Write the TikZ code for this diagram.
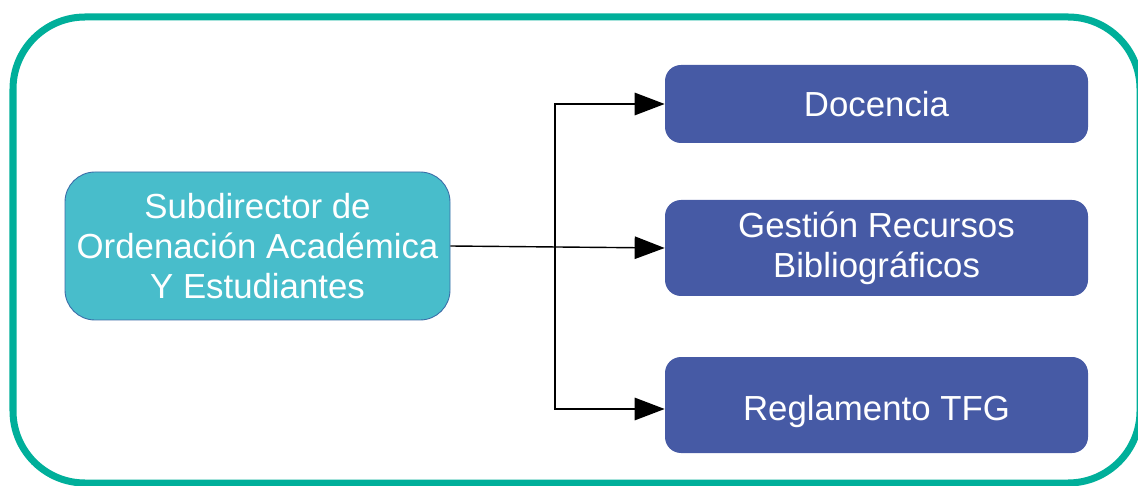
\documentclass[tikz,border=0pt]{standalone}
\usepackage{fontspec}
\setmainfont{Liberation Sans}
\usepackage{tikz}
\usetikzlibrary{arrows.meta}
\definecolor{frame-teal}{HTML}{00AF9A}
\definecolor{head-cyan}{HTML}{48BDCB}
\definecolor{head-line}{HTML}{3B6DA8}
\definecolor{task-blue}{HTML}{465AA5}
\tikzset{
    head-box/.style = {draw=head-line, line width=0.5pt, fill=head-cyan, text=white, rectangle, rounded corners=0.6cm,
        minimum width=7.7cm, minimum height=2.96cm, align=center, font=\fontsize{19.8}{22.9}\selectfont},
    task-box/.style = {fill=task-blue, text=white, rectangle, rounded corners=0.32cm, minimum width=8.46cm,
        align=center, font=\fontsize{19.8}{22.9}\selectfont},
    link/.style = {draw=black, line width=0.8pt, -{Triangle[length=0.6cm,width=0.45cm]}},
}
\begin{document}
\begin{tikzpicture}
\useasboundingbox (0,0) rectangle (22.76,9.70);
\clip (0,0) rectangle (22.76,9.70);
% outer frame
\draw[frame-teal, line width=0.14cm, rounded corners=1.44cm] (0.26,0.04) rectangle (22.80,9.36);

\node [head-box] (sub) at (5.15,4.78) {Subdirector de\\Ordenación Académica\\ Y Estudiantes};
\node [task-box, minimum height=1.56cm] (doc) at (17.53,7.62) {Docencia};
\node [task-box, minimum height=1.92cm] (ges) at (17.53,4.74) {Gestión Recursos\\Bibliográficos};
\node [task-box, minimum height=1.92cm, text height=0.78cm] (tfg) at (17.53,1.60) {Reglamento TFG};

\coordinate (split) at (11.1,4.74);
\draw [link] (sub.east) -- (ges.west);
\draw [link] (split) |- ([yshift=-0.08cm]tfg.west);
\draw [link] (split) |- (doc.west);
\end{tikzpicture}
\end{document}
